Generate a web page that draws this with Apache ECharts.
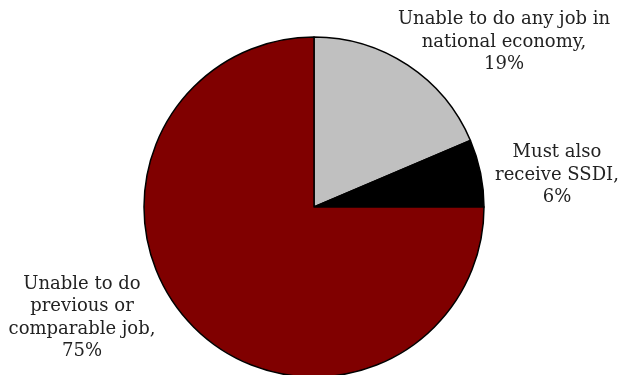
<!DOCTYPE html>
<html><head><meta charset="utf-8">
<script src="https://cdn.jsdelivr.net/npm/echarts@6/dist/echarts.min.js"></script>
<style>html,body{margin:0;padding:0;background:#fff}#c{width:626px;height:375px}</style>
</head><body><div id="c"></div>
<script>
const categories = ["Unable to do any job in\nnational economy", "Must also\nreceive SSDI", "Unable to do\nprevious or\ncomparable job"];
const values = [18.6, 6.4, 75.0];
const colors = ["#C0C0C0", "#000000", "#800000"];
const labelPos = [[504, 42], [557, 175], [82, 318]];

const chart = echarts.init(document.getElementById('c'), null, {renderer: 'canvas'});
chart.setOption({
  animation: false,
  series: [{
    type: 'pie',
    center: [314, 207],
    radius: 170,
    startAngle: 90,
    clockwise: true,
    data: categories.map((c, i) => ({name: c, value: values[i], itemStyle: {color: colors[i]}})),
    itemStyle: {borderColor: '#000', borderWidth: 1.5},
    label: {
      show: true,
      position: 'outside',
      formatter: p => p.name + ',\n' + Math.round(p.value) + '%',
      fontFamily: 'DejaVu Serif',
      fontSize: 18,
      lineHeight: 22.5,
      color: '#222',
      align: 'center',
      overflow: 'none',
      width: 300
    },
    labelLine: {show: false},
    labelLayout: p => ({x: labelPos[p.dataIndex][0], y: labelPos[p.dataIndex][1], align: 'center', verticalAlign: 'middle'})
  }]
});
</script></body></html>
